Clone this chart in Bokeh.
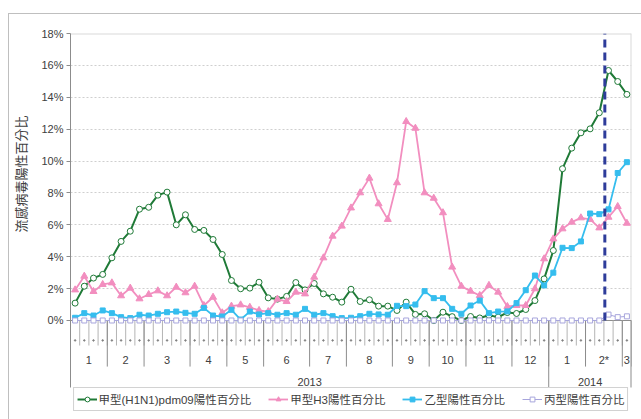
import numpy as np
from bokeh.plotting import figure
from bokeh.models import (Range1d, FixedTicker, PrintfTickFormatter, Legend, LegendItem,
                          Title, InlineStyleSheet)
from bokeh.core.properties import value
from bokeh.embed import file_html
from bokeh.resources import INLINE

# ---------------- data (percent positive, weekly) ----------------
h1n1 = [1.09, 2.15, 2.66, 2.89, 3.93, 4.96, 5.60, 6.98, 7.10, 7.86,
        8.05, 6.00, 6.63, 5.71, 5.65, 5.08, 4.14, 2.51, 1.99, 2.03,
        2.40, 1.42, 1.34, 1.51, 2.38, 1.92, 2.32, 1.67, 1.46, 1.15,
        1.96, 1.19, 1.30, 0.90, 0.90, 0.63, 1.15, 0.38, 0.42, 0.00,
        0.52, 0.24, 0.00, 0.25, 0.16, 0.33, 0.21, 0.50, 0.44, 0.69,
        1.25, 2.61, 4.39, 9.52, 10.81, 11.77, 12.02, 13.03, 15.68, 14.99,
        14.18]
h3 = [1.92, 2.78, 1.82, 2.26, 2.36, 1.55, 2.03, 1.36, 1.63, 1.86,
      1.55, 2.09, 1.74, 2.15, 0.94, 1.46, 0.48, 0.90, 0.98, 0.83,
      0.63, 0.56, 1.34, 1.19, 1.78, 1.67, 2.72, 3.93, 5.29, 5.92,
      7.06, 8.01, 8.93, 7.32, 6.34, 8.64, 12.48, 12.06, 8.01, 7.67,
      6.76, 3.35, 2.15, 1.84, 1.57, 2.20, 1.78, 0.88, 0.94, 0.94,
      1.99, 3.87, 5.12, 5.75, 6.17, 6.44, 6.34, 5.81, 6.48, 7.15,
      6.10]
flu_b = [0.17, 0.46, 0.31, 0.63, 0.46, 0.21, 0.15, 0.36, 0.31, 0.42,
         0.52, 0.56, 0.48, 0.42, 0.79, 0.31, 0.25, 0.67, 0.06, 0.56,
         0.38, 0.46, 0.36, 0.46, 0.36, 0.73, 0.36, 0.46, 0.27, 0.15,
         0.17, 0.27, 0.42, 0.38, 0.36, 0.92, 0.90, 1.00, 1.84, 1.40,
         1.40, 0.73, 0.42, 0.94, 1.25, 0.46, 0.56, 0.57, 1.09, 1.90,
         2.82, 2.20, 3.00, 4.56, 4.54, 4.96, 6.71, 6.67, 6.97, 9.25,
         9.93]
flu_c = [0.0] * 58 + [0.37, 0.21, 0.26]

series_names = ["甲型(H1N1)pdm09陽性百分比", "甲型H3陽性百分比", "乙型陽性百分比", "丙型陽性百分比"]
month_labels = ["1", "2", "3", "4", "5", "6", "7", "8", "9", "10", "11", "12", "1", "2*", "3"]
weeks_per_month = [4, 4, 5, 4, 4, 5, 4, 5, 4, 4, 5, 4, 4, 4, 1]
year_labels = ["2013", "2014"]
weeks_per_year = [52, 9]
y_ticks = [0, 2, 4, 6, 8, 10, 12, 14, 16, 18]
marker_week = 57.6          # dashed reference line (between weeks)
y_title = "流感病毒陽性百分比"

# ---------------- derived ----------------
n = len(h1n1)
weeks = list(range(n))
month_edges = np.concatenate([[0], np.cumsum(weeks_per_month)]) - 0.5
month_centers = (month_edges[:-1] + month_edges[1:]) / 2
year_edges = np.concatenate([[0], np.cumsum(weeks_per_year)]) - 0.5
year_centers = (year_edges[:-1] + year_edges[1:]) / 2
week_edges = [k - 0.5 for k in range(1, n)]

LATIN = "Liberation Sans"
CJK = "'Liberation Sans', 'Noto Sans CJK TC'"
AXIS_GREY = "#8C8C8C"
TXT = "#404040"

YMIN, YMAX = -6.21, 18
AX_BOTTOM = -4.2

p = figure(width=641, height=419, x_range=Range1d(-0.5, n - 0.5), y_range=Range1d(YMIN, YMAX),
           output_backend="svg", toolbar_location=None, x_axis_location=None, title=None,
           min_border_left=69, min_border_right=10, min_border_top=33, min_border_bottom=0)
p.outline_line_color = None
p.background_fill_color = "white"
p.border_fill_color = "white"

# outer chart-area border (top and left edges)
p.stylesheets = [InlineStyleSheet(css=(
    ":host { position: relative; }"
    ":host::after { content: ''; position: absolute; left: 8px; top: 13px; right: 0; bottom: 0;"
    " border-top: 1px solid #BFBFBF; border-left: 1px solid #BFBFBF; pointer-events: none; z-index: 5; }"
))]

# y axis
p.yaxis.ticker = FixedTicker(ticks=y_ticks)
p.yaxis.bounds = (AX_BOTTOM, YMAX)
p.yaxis.formatter = PrintfTickFormatter(format="%d%%")
p.yaxis.major_tick_out = 4
p.yaxis.major_tick_in = 0
p.yaxis.minor_tick_out = 0
p.yaxis.minor_tick_in = 0
p.yaxis.major_label_standoff = 3
p.yaxis.axis_line_color = AXIS_GREY
p.yaxis.major_tick_line_color = AXIS_GREY
p.yaxis.major_label_text_font = LATIN
p.yaxis.major_label_text_font_size = "11px"
p.yaxis.major_label_text_color = TXT

# y title
p.add_layout(Title(text=y_title, align="right", offset=82, standoff=17,
                   text_font="Noto Sans CJK TC", text_font_size="13px",
                   text_font_style="normal", text_color=TXT), "left")

# grid
p.xgrid.visible = False
p.ygrid.ticker = FixedTicker(ticks=y_ticks[1:-1])
p.ygrid.grid_line_color = "#CFCFCF"
p.ygrid.grid_line_dash = "2 2"

# plot area borders (top / right)
p.segment(x0=[-0.5], y0=[YMAX], x1=[n - 0.5], y1=[YMAX], line_color="#D9D9D9", line_width=2)
p.segment(x0=[n - 0.5], y0=[0], x1=[n - 0.5], y1=[YMAX], line_color="#D9D9D9", line_width=2)

# category axis (multi-level)
p.segment(x0=[-0.5], y0=[0], x1=[n - 0.5], y1=[0], line_color=AXIS_GREY, line_width=1)
p.segment(x0=week_edges, y0=[0] * len(week_edges), x1=week_edges, y1=[-1.57] * len(week_edges),
          line_color="#B4B4B4", line_width=1)
p.segment(x0=month_edges[1:], y0=[0] * (len(month_edges) - 1), x1=month_edges[1:],
          y1=[-2.89] * (len(month_edges) - 1), line_color=AXIS_GREY, line_width=1)
p.segment(x0=year_edges[1:-1], y0=[0] * (len(year_edges) - 2), x1=year_edges[1:-1],
          y1=[AX_BOTTOM] * (len(year_edges) - 2), line_color=AXIS_GREY, line_width=1)
p.segment(x0=[year_edges[-1]], y0=[0], x1=[year_edges[-1]], y1=[AX_BOTTOM],
          line_color=AXIS_GREY, line_width=2)
p.scatter(x=weeks, y=[-1.25] * n, size=1.5, color="#808080")
p.text(x=month_centers, y=[-2.45] * len(month_centers), text=month_labels,
       text_font=value(LATIN), text_font_size="11px", text_color=TXT,
       text_align="center", text_baseline="middle")
p.text(x=year_centers, y=[-3.83] * len(year_centers), text=year_labels,
       text_font=value(LATIN), text_font_size="11px", text_color=TXT,
       text_align="center", text_baseline="middle")

# series
styles = [
    dict(data=h1n1, color="#1F7A37", lw=2, marker="circle", size=6, fill="white"),
    dict(data=h3, color="#F28EBF", lw=1.8, marker="triangle", size=7, fill="#F28EBF"),
    dict(data=flu_b, color="#35BDEE", lw=1.8, marker="square", size=5, fill="#35BDEE"),
    dict(data=flu_c, color="#A7A5DC", lw=1, marker="square", size=5, fill="white"),
]
items = []
for name, st in zip(series_names, styles):
    lr = p.line(weeks, st["data"], line_color=st["color"], line_width=st["lw"])
    sr = p.scatter(weeks, st["data"], marker=st["marker"], size=st["size"],
                   line_color=st["color"], fill_color=st["fill"], line_width=1)
    items.append(LegendItem(label=name, renderers=[lr, sr]))

# dashed marker line
p.segment(x0=[marker_week], y0=[0], x1=[marker_week], y1=[YMAX], line_color="#2E3C9A",
          line_width=3, line_dash="8 5")

legend = Legend(items=items, orientation="horizontal", location="bottom_center",
                label_text_font=CJK, label_text_font_size="11.5px", label_text_color=TXT,
                glyph_width=20, glyph_height=12, label_height=12, label_standoff=2,
                spacing=17, padding=3, margin=8, border_line_color="#A6A6A6",
                border_line_width=1, background_fill_color="white")
p.add_layout(legend, "center")

open("out.html", "w").write(file_html(p, INLINE))
